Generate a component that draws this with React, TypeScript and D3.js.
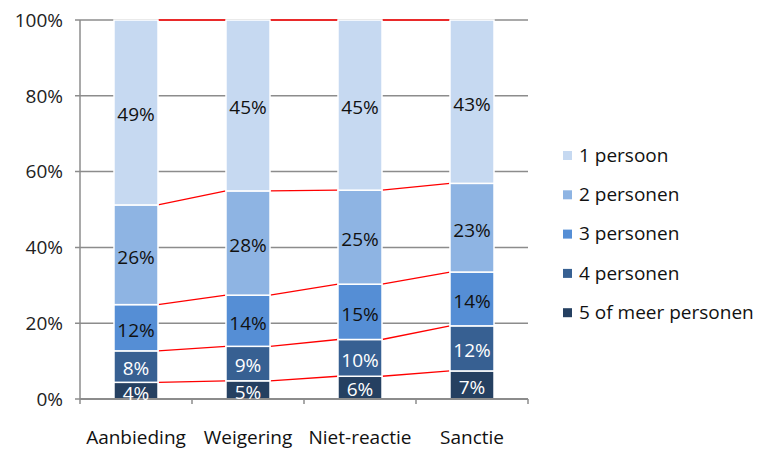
import { useEffect, useRef } from "react";
import * as d3 from "d3";

const categories = ["Aanbieding", "Weigering", "Niet-reactie", "Sanctie"];
const seriesNames = ["5 of meer personen", "4 personen", "3 personen", "2 personen", "1 persoon"];
// shares per category, bottom series first
const vijfPlus = [4.4, 4.8, 6.0, 7.4];
const vier = [8.3, 9.1, 9.7, 11.9];
const drie = [12.2, 13.5, 14.6, 14.2];
const twee = [26.3, 27.5, 24.8, 23.4];
const een = [48.8, 45.1, 44.9, 43.1];
const labels = [
  ["4%", "5%", "6%", "7%"],
  ["8%", "9%", "10%", "12%"],
  ["12%", "14%", "15%", "14%"],
  ["26%", "28%", "25%", "23%"],
  ["49%", "45%", "45%", "43%"],
];
const yTicks = [0, 20, 40, 60, 80, 100];
const colors = ["#254061", "#376092", "#558ed5", "#8eb4e3", "#c6d9f1"];
const textColors = ["#ffffff", "#ffffff", "#111111", "#111111", "#111111"];

export default function App() {
  const svgRef = useRef<SVGSVGElement>(null);

  useEffect(() => {
    document.body.style.margin = "0";
    if (!svgRef.current) return;
    const W = 757, H = 449;
    const font = "'Open Sans', sans-serif";
    const svg = d3.select(svgRef.current).attr("width", W).attr("height", H);
    svg.selectAll("*").remove();

    const x0 = 80, x1 = 528, yTop = 20, yBot = 399;
    const x = d3.scaleBand().domain(categories).range([x0, x1]).paddingInner(0.607).paddingOuter(0.3035);
    const y = d3.scaleLinear().domain([0, 100]).range([yBot, yTop]);
    const band = (x1 - x0) / categories.length;

    const rows = [vijfPlus, vier, drie, twee, een];
    const stacked = categories.map((c, i) => {
      let acc = 0;
      return rows.map((r, s) => {
        const y0 = acc;
        acc += r[i];
        return { cat: c, s, y0, y1: acc, label: labels[s][i] };
      });
    });
    // normalise to 100
    stacked.forEach((segs) => {
      const tot = segs[segs.length - 1].y1;
      segs.forEach((d) => { d.y0 = (d.y0 / tot) * 100; d.y1 = (d.y1 / tot) * 100; });
    });

    // Grid lines
    svg.selectAll(".grid")
      .data(yTicks.filter((t) => t > 0)).enter().append("line")
      .attr("x1", x0 - 5).attr("x2", x1)
      .attr("y1", (d) => y(d)).attr("y2", (d) => y(d))
      .attr("stroke", "#8c8c8c").attr("stroke-width", 1.5);

    // Y axis
    svg.append("line").attr("x1", x0).attr("x2", x0).attr("y1", yTop).attr("y2", yBot)
      .attr("stroke", "#8c8c8c").attr("stroke-width", 1.5);
    svg.append("line").attr("x1", x0 - 5).attr("x2", x0).attr("y1", yBot).attr("y2", yBot)
      .attr("stroke", "#8c8c8c").attr("stroke-width", 1.5);
    svg.selectAll(".ylab")
      .data(yTicks).enter().append("text")
      .attr("x", x0 - 17).attr("y", (d) => y(d)).attr("dy", "0.36em")
      .attr("text-anchor", "end").attr("font-family", font).attr("font-size", 19).attr("fill", "#222")
      .text((d) => `${d}%`);

    // Red connector lines
    for (let i = 0; i < categories.length - 1; i++) {
      stacked[i].forEach((d, s) => {
        const nx = stacked[i + 1][s];
        svg.append("line")
          .attr("x1", (x(categories[i]) ?? 0) + x.bandwidth()).attr("y1", y(d.y1))
          .attr("x2", x(categories[i + 1]) ?? 0).attr("y2", y(nx.y1))
          .attr("stroke", "#ff0000").attr("stroke-width", 1.3);
      });
    }

    // Bars
    const flat = stacked.flat();
    svg.selectAll(".bar")
      .data(flat).enter().append("rect")
      .attr("x", (d) => x(d.cat) ?? 0).attr("width", x.bandwidth())
      .attr("y", (d) => y(d.y1)).attr("height", (d) => y(d.y0) - y(d.y1))
      .attr("fill", (d) => colors[d.s]).attr("stroke", "#ffffff").attr("stroke-width", 1.5);

    // X axis
    svg.append("line").attr("x1", x0).attr("x2", x1).attr("y1", yBot).attr("y2", yBot)
      .attr("stroke", "#8c8c8c").attr("stroke-width", 2);
    svg.selectAll(".xtick")
      .data(d3.range(categories.length + 1)).enter().append("line")
      .attr("x1", (d) => x0 + d * band).attr("x2", (d) => x0 + d * band)
      .attr("y1", yBot).attr("y2", yBot + 5)
      .attr("stroke", "#8c8c8c").attr("stroke-width", 1.5);

    // Segment labels
    svg.selectAll(".seglab")
      .data(flat).enter().append("text")
      .attr("x", (d) => (x(d.cat) ?? 0) + x.bandwidth() / 2)
      .attr("y", (d) => y((d.y0 + d.y1) / 2) + 2).attr("dy", "0.36em")
      .attr("text-anchor", "middle").attr("font-family", font).attr("font-size", 19)
      .attr("fill", (d) => textColors[d.s])
      .text((d) => d.label);

    // Category labels
    svg.selectAll(".xlab")
      .data(categories).enter().append("text")
      .attr("x", (d) => (x(d) ?? 0) + x.bandwidth() / 2).attr("y", 437).attr("dy", "0.36em")
      .attr("text-anchor", "middle").attr("font-family", font).attr("font-size", 19).attr("fill", "#111")
      .text((d) => d);

    // Legend
    const legend = [...seriesNames].reverse();
    const lg = svg.selectAll(".leg").data(legend).enter().append("g")
      .attr("transform", (_d, i) => `translate(563,${155 + i * 39.3})`);
    lg.append("rect").attr("x", 0).attr("y", -4).attr("width", 9).attr("height", 9)
      .attr("fill", (_d, i) => colors[colors.length - 1 - i]);
    lg.append("text").attr("x", 16).attr("y", 0).attr("dy", "0.36em")
      .attr("font-family", font).attr("font-size", 19).attr("fill", "#111")
      .text((d) => d);
  }, []);

  return <svg ref={svgRef} style={{ display: "block" }} />;
}
